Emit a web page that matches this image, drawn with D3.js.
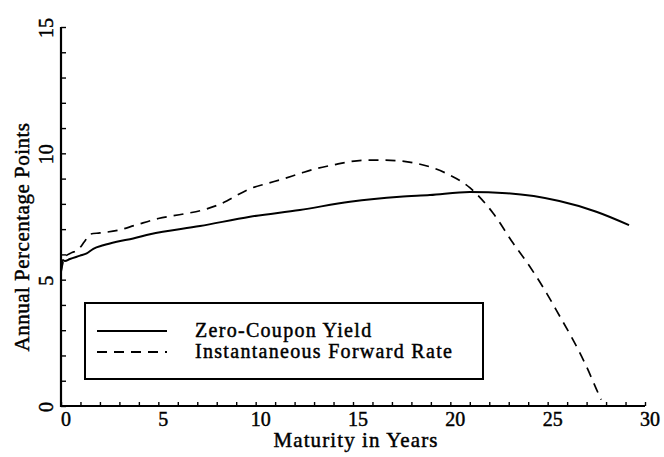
<!DOCTYPE html>
<html>
<head>
<meta charset="utf-8">
<script src="https://cdn.jsdelivr.net/npm/d3@7"></script>
<style>
  html, body { margin: 0; padding: 0; background: #fff; }
  svg { display: block; }
</style>
</head>
<body>
<svg id="chart" width="664" height="457"></svg>
<script>
// ---- data ----
const yieldMaturity = [0, 0.09, 0.2, 0.46, 0.98, 1.32, 1.66, 2.17, 2.86, 3.71, 4.57, 7.14, 9.71, 12.27, 14.84, 17.41, 18.95, 21.0, 22.9, 25.6, 27.5, 29.18];
const yieldValues   = [5.31, 5.78, 5.74, 5.82, 5.95, 6.04, 6.22, 6.36, 6.5, 6.63, 6.8, 7.12, 7.49, 7.76, 8.08, 8.28, 8.35, 8.47, 8.42, 8.11, 7.69, 7.16];

const forwardMaturity = [0, 0.2, 0.5, 0.9, 1.2, 1.5, 2.0, 2.9, 3.8, 5.0, 6.3, 7.4, 8.4, 8.85, 9.71, 10.56, 11.42, 12.27, 13.13, 13.99, 14.84, 15.7, 16.55, 17.41, 18.08, 19.81, 21.0, 22.2, 23.23, 24.09, 24.95, 25.63, 26.31, 27.0, 27.6, 27.75];
const forwardValues   = [5.31, 5.9, 6.05, 6.2, 6.5, 6.8, 6.85, 6.95, 7.15, 7.42, 7.6, 7.78, 8.07, 8.26, 8.6, 8.8, 8.99, 9.2, 9.4, 9.54, 9.67, 9.73, 9.73, 9.7, 9.63, 9.2, 8.64, 7.63, 6.44, 5.51, 4.46, 3.54, 2.61, 1.55, 0.5, 0.25];

const xTickLabels = [0, 5, 10, 15, 20, 25, 30];
const yTickLabels = [0, 5, 10, 15];
const legendLabels = ["Zero-Coupon Yield", "Instantaneous Forward Rate"];
const xTitle = "Maturity in Years";
const yTitle = "Annual Percentage Points";

// ---- drawing ----
const FONT = "'Liberation Serif', 'DejaVu Serif', serif";
const svg = d3.select("#chart");
const x = d3.scaleLinear().domain([0, 30]).range([61, 645]);
const y = d3.scaleLinear().domain([0, 15]).range([406, 27]);

function ink(sel) {
  return sel.attr("font-family", FONT).attr("fill", "#000")
    .attr("stroke", "#000").attr("stroke-width", 0.45);
}

// minor / major ticks (inward)
const xAxis = d3.axisBottom(x).tickValues(d3.range(0, 31)).tickSizeInner(-4).tickSizeOuter(0).tickFormat("");
const gx = svg.append("g").attr("transform", `translate(0,${y(0)})`).call(xAxis);
gx.select(".domain").attr("stroke", "#000").attr("stroke-width", 2.2).attr("d", `M${x(0) - 1},0H${x(30)}`);
gx.selectAll(".tick line").attr("stroke", "#000").attr("stroke-width", 1.4);

const yAxis = d3.axisLeft(y).tickValues(d3.range(0, 16)).tickSizeInner(-5).tickSizeOuter(0).tickFormat("");
const gy = svg.append("g").attr("transform", `translate(${x(0)},0)`).call(yAxis);
gy.select(".domain").attr("stroke", "#000").attr("stroke-width", 2.2).attr("d", `M0,${y(0) + 1}V${y(15)}`);
gy.selectAll(".tick line").attr("stroke", "#000").attr("stroke-width", 1.4);

// tick labels
svg.append("g").selectAll("text").data(xTickLabels).join("text")
  .attr("x", d => x(d) + 5).attr("y", 426)
  .attr("text-anchor", "middle").attr("font-size", 20)
  .call(ink).text(d => d);

svg.append("g").selectAll("text").data(yTickLabels).join("text")
  .attr("transform", d => `translate(53,${y(d) + 1}) rotate(-90)`)
  .attr("text-anchor", "middle").attr("font-size", 20)
  .call(ink).text(d => d);

// axis titles
svg.append("text").attr("x", 356).attr("y", 447).attr("text-anchor", "middle")
  .attr("font-size", 21).attr("letter-spacing", 1.1).call(ink).text(xTitle);
svg.append("text").attr("transform", "translate(29,237) rotate(-90)").attr("text-anchor", "middle")
  .attr("font-size", 21).attr("letter-spacing", 0.5).call(ink).text(yTitle);

// curves
const yieldData = yieldMaturity.map((m, i) => [m, yieldValues[i]]);
const fwdData = forwardMaturity.map((m, i) => [m, forwardValues[i]]);
const line = d3.line().x(d => x(d[0])).y(d => y(d[1])).curve(d3.curveMonotoneX);

svg.append("path").datum(yieldData).attr("d", line)
  .attr("fill", "none").attr("stroke", "#000").attr("stroke-width", 2);
svg.append("path").datum(fwdData).attr("d", line)
  .attr("fill", "none").attr("stroke", "#000").attr("stroke-width", 1.7).attr("stroke-dasharray", "10,7");

// legend
const lg = svg.append("g");
lg.append("rect").attr("x", 85).attr("y", 303).attr("width", 398).attr("height", 76)
  .attr("fill", "#fff").attr("stroke", "#000").attr("stroke-width", 2);
const styles = [null, "10,7"];
legendLabels.forEach((lab, i) => {
  const ly = 331 + i * 21;
  lg.append("line").attr("x1", 97).attr("x2", 167).attr("y1", ly).attr("y2", ly)
    .attr("stroke", "#000").attr("stroke-width", 2).attr("stroke-dasharray", styles[i]);
  lg.append("text").attr("x", 195).attr("y", ly + 6).attr("font-size", 20)
    .attr("letter-spacing", 1.3).call(ink).text(lab);
});
</script>
</body>
</html>
